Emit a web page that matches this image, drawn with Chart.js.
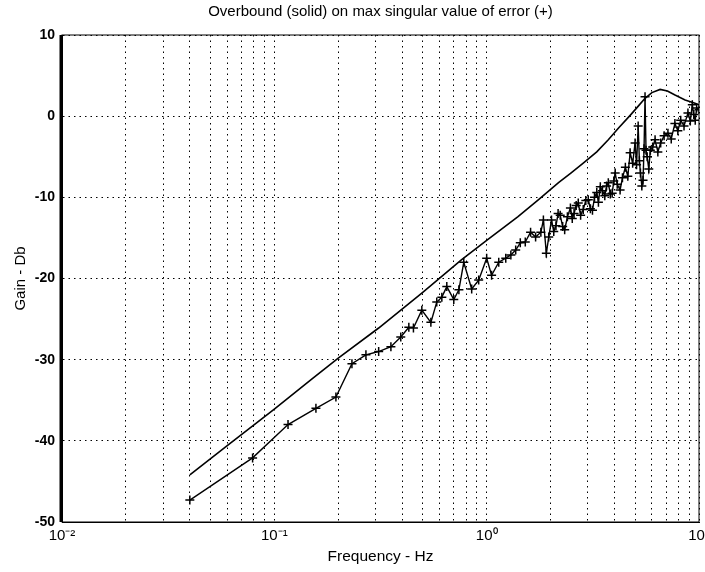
<!DOCTYPE html>
<html><head><meta charset="utf-8">
<script src="https://cdn.jsdelivr.net/npm/chart.js@4.4.0/dist/chart.umd.min.js"></script>
<style>html,body{margin:0;padding:0;background:#fff}canvas{display:block}</style>
</head><body>
<canvas id="c" width="705" height="572"></canvas>
<script>
// Overbound (solid line)
const boundFreq = [0.04,0.06,0.1,0.15,0.2,0.31,0.5,0.76,1.0,1.4,1.75,2.18,2.5,2.85,3.3,3.74,4.2,4.74,5.2,5.57,6.0,6.56,7.1,7.71,8.6,9.57,10];
const boundGain = [-44.2,-40.6,-36.1,-32.4,-29.8,-26.1,-21.7,-17.7,-15.3,-12.4,-10.3,-8.2,-7.0,-5.8,-4.4,-2.9,-1.4,0.1,1.3,2.2,2.9,3.3,3.1,2.6,2.0,1.6,1.4];

// Max singular value of error (+)
const errFreq = [0.040,0.079,0.116,0.157,0.195,0.232,0.270,0.310,0.354,0.394,0.430,0.440,0.452,0.495,0.546,0.582,0.615,0.649,0.700,0.740,0.780,0.850,0.917,1.000,1.055,1.140,1.230,1.300,1.370,1.440,1.520,1.610,1.700,1.800,1.850,1.910,1.960,
  2.02,2.07,2.12,2.17,2.22,2.28,2.33,2.40,2.48,2.53,2.58,2.64,2.70,2.77,2.85,2.93,3.01,3.08,3.15,3.22,3.30,3.36,3.43,3.51,3.60,3.67,3.74,3.82,3.90,3.97,4.03,4.12,4.25,4.36,4.50,4.62,4.74,4.87,5.00,5.08,5.17,5.24,5.30,5.38,5.45,5.51,5.57,5.63,5.70,5.80,5.90,6.05,6.21,6.40,6.60,6.85,7.14,7.40,7.70,7.95,8.20,8.50,8.87,9.10,9.30,9.45,9.60,9.75,10.00];
const errGain = [-47.3,-42.1,-38.0,-36.0,-34.6,-30.5,-29.4,-29.0,-28.4,-27.2,-26.0,null,-26.1,-23.9,-25.4,-22.9,-22.3,-21.0,-22.6,-21.4,-18.0,-21.3,-20.2,-17.5,-19.6,-18.0,-17.5,-17.1,-16.5,-15.6,-15.5,-14.3,-14.9,-14.3,-12.8,-16.9,-14.9,
  -12.8,-14.2,-13.5,-12.0,-12.2,-13.6,-14.0,-12.4,-11.3,-12.6,-12.0,-11.0,-10.7,-12.2,-11.5,-10.4,-10.3,-11.4,-11.6,-10.0,-9.4,-10.6,-8.7,-9.2,-9.8,-8.6,-8.2,-9.6,-9.5,-8.0,-7.0,-8.4,-9.1,-7.6,-6.3,-7.4,-4.5,-5.8,-3.3,-6.0,-1.2,-5.5,-7.0,-8.6,-7.9,-4.0,2.4,-4.2,-5.0,-6.5,-4.2,-3.8,-2.9,-4.4,-3.3,-2.4,-2.1,-2.8,-0.9,-1.8,-0.5,-1.2,0.4,-0.6,1.4,0.2,-0.5,1.0,0.8];

// Axis ticks
const xTickValues = [0.01,0.02,0.03,0.04,0.05,0.06,0.07,0.08,0.09,0.1,0.2,0.3,0.4,0.5,0.6,0.7,0.8,0.9,1,2,3,4,5,6,7,8,9,10];
const xDecades = [0.01,0.1,1,10];
const xDecadeLabels = ['10\u207B\u00B2','10\u207B\u00B9','10\u2070','10\u00B9'];
const yTicks = [10,0,-10,-20,-30,-40,-50];

const FONT = "'Liberation Sans', Arial, sans-serif";

const framePlugin = {
  id: 'frame',
  afterDraw(chart) {
    const {ctx, chartArea: a} = chart;
    ctx.save();
    ctx.strokeStyle = '#000';
    ctx.lineWidth = 1;
    ctx.strokeRect(a.left, a.top, a.right - a.left, a.bottom - a.top);
    ctx.lineWidth = 3;
    ctx.beginPath();
    ctx.moveTo(a.left - 1, a.top);
    ctx.lineTo(a.left - 1, a.bottom);
    ctx.stroke();
    ctx.restore();
  }
};

new Chart(document.getElementById('c'), {
  type: 'line',
  data: {
    datasets: [
      {
        label: 'Overbound',
        data: boundFreq.map((f, i) => ({x: f, y: boundGain[i]})),
        borderColor: '#000', borderWidth: 1.6, pointRadius: 0, fill: false, tension: 0
      },
      {
        label: 'Error',
        data: errFreq.map((f, i) => ({x: f, y: errGain[i]})),
        borderColor: '#000', borderWidth: 1.4, pointStyle: 'cross', pointRadius: 4.5,
        pointBorderWidth: 1.5, pointBorderColor: '#000', fill: false, tension: 0, spanGaps: false
      }
    ]
  },
  options: {
    responsive: false,
    animation: false,
    layout: {padding: {left: 0, right: 5, top: 0, bottom: 3}},
    plugins: {
      legend: {display: false},
      tooltip: {enabled: false},
      title: {
        display: true,
        text: 'Overbound (solid) on max singular value of error (+)',
        color: '#000',
        fullSize: false,
        font: {family: FONT, size: 15, weight: 'normal', lineHeight: 1.2},
        padding: {top: 3, bottom: 14}
      }
    },
    scales: {
      x: {
        type: 'logarithmic',
        min: 0.01, max: 10,
        afterBuildTicks(scale) { scale.ticks = xTickValues.map(v => ({value: v})); },
        afterFit(scale) { scale.height = 47; scale.paddingLeft = 0; scale.paddingRight = 0; },
        ticks: {
          autoSkip: false, maxRotation: 0, padding: 5, color: '#000',
          font: {family: FONT, size: 15},
          callback(value) {
            const k = xDecades.findIndex(d => Math.abs(d - value) / d < 1e-6);
            return k >= 0 ? xDecadeLabels[k] : '';
          }
        },
        grid: {color: '#000', lineWidth: 1, drawTicks: false},
        border: {display: true, color: '#000', width: 1, dash: [1.5, 4]},
        title: {display: true, text: 'Frequency - Hz', color: '#000', font: {family: FONT, size: 15.5}, padding: {top: 0, bottom: 3}}
      },
      y: {
        type: 'linear',
        min: -50, max: 10,
        afterBuildTicks(scale) { scale.ticks = yTicks.map(v => ({value: v})); },
        afterFit(scale) { scale.width = 62; scale.paddingTop = 0; scale.paddingBottom = 0; },
        ticks: {padding: 7, color: '#000', font: {family: FONT, size: 14, weight: 'bold'}},
        grid: {color: '#000', lineWidth: 1, drawTicks: false},
        border: {display: true, color: '#000', width: 1, dash: [1.5, 4]},
        title: {display: true, text: 'Gain - Db', color: '#000', font: {family: FONT, size: 15}, padding: {top: 12, bottom: 0}}
      }
    }
  },
  plugins: [framePlugin]
});
</script>
</body></html>
